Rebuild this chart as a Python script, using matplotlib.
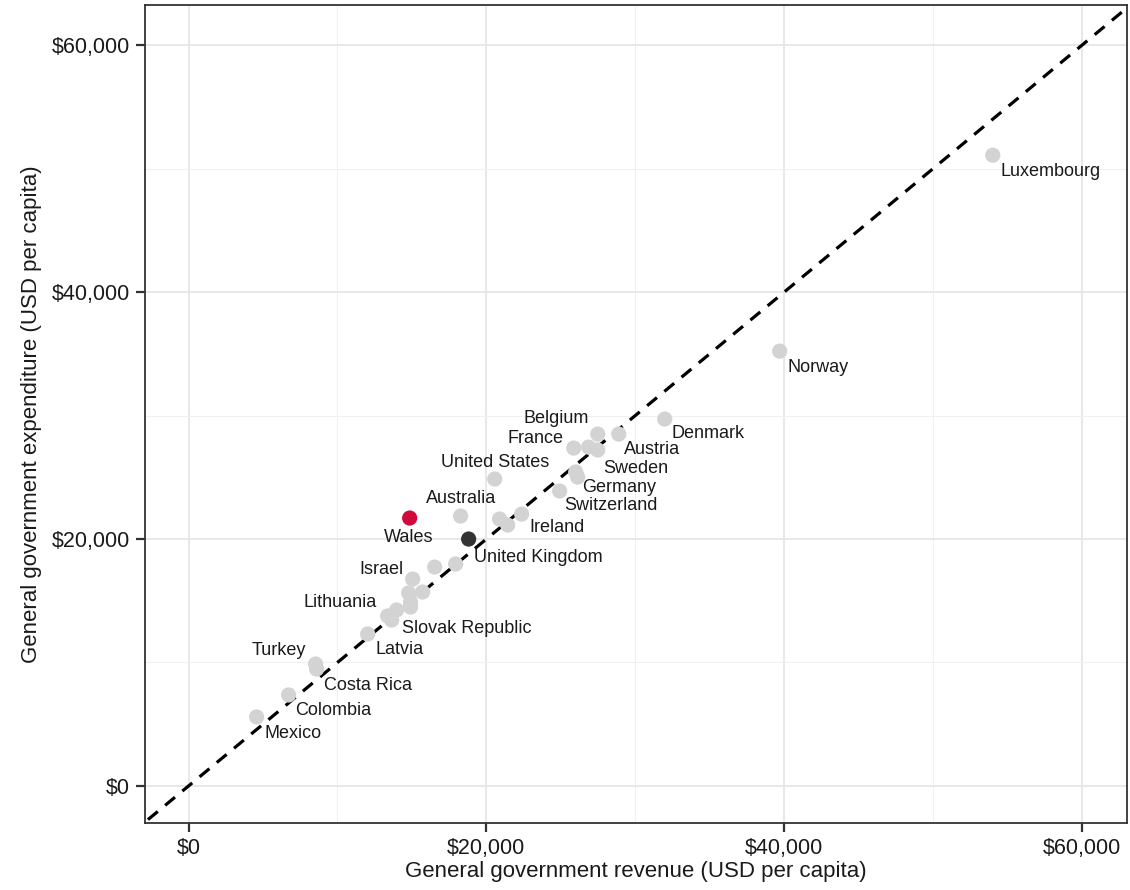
import matplotlib.pyplot as plt
from matplotlib.ticker import FuncFormatter, MultipleLocator

plt.rcParams['font.family'] = ['Liberation Sans', 'DejaVu Sans']

# revenue (x) and expenditure (y), USD per capita
countries = ['Luxembourg', 'Norway', 'Denmark', 'Belgium', 'Austria', 'France', '',
             'Sweden', '', 'Germany', 'Switzerland', 'United States', 'Australia',
             '', '', 'Ireland', '', '', 'Israel', '', '', '', '', '', 'Lithuania',
             'Slovak Republic', 'Latvia', 'Turkey', 'Costa Rica', 'Colombia', 'Mexico']
revenue = [54010, 39700, 31980, 27480, 28890, 25870, 26870,
           27480, 26000, 26130, 24920, 20560, 18270,
           20890, 21430, 22370, 16530, 17940, 15050, 14780, 15720, 14910, 14910, 13970, 13370,
           13640, 12030, 8530, 8600, 6720, 4570]
expenditure = [51090, 35220, 29720, 28500, 28500, 27370, 27450,
               27210, 25430, 25020, 23890, 24860, 21860,
               21620, 21130, 22020, 17730, 17980, 16760, 15630, 15710, 14900, 14490, 14250, 13770,
               13440, 12310, 9880, 9470, 7370, 5590]

wales = (14850, 21700)
uk = (18810, 20000)

# label offsets in pixels (dx, dy, ha)
label_pos = {
    'Luxembourg': (8, -16, 'left'), 'Norway': (8, -16, 'left'), 'Denmark': (7, -14, 'left'),
    'Belgium': (-9, 16, 'right'), 'Austria': (5, -15, 'left'), 'France': (-10, 10, 'right'),
    'Sweden': (5, -18, 'left'), 'Germany': (4, -10, 'left'), 'Switzerland': (5, -14, 'left'),
    'United States': (0, 17, 'center'), 'Australia': (0, 18, 'center'), 'Ireland': (8, -13, 'left'),
    'Israel': (-9, 10, 'right'), 'Lithuania': (-11, 13, 'right'), 'Slovak Republic': (10, -8, 'left'),
    'Latvia': (8, -16, 'left'), 'Turkey': (-10, 13, 'right'), 'Costa Rica': (7, -16, 'left'),
    'Colombia': (7, -16, 'left'), 'Mexico': (8, -17, 'left'),
}

fig = plt.figure(figsize=(11.3, 8.9), dpi=100)
ax = fig.add_axes([0.128, 0.0753, 0.869, 0.919])

ax.plot([-10000, 70000], [-10000, 70000], color='black', linestyle=(0, (4, 3)), linewidth=2.3, zorder=2)
ax.scatter(revenue, expenditure, s=120, color='#d3d3d3', edgecolors='none', zorder=3)
ax.scatter([wales[0]], [wales[1]], s=120, color='#d10a3c', edgecolors='none', zorder=4)
ax.scatter([uk[0]], [uk[1]], s=120, color='#333333', edgecolors='none', zorder=4)

for name, x, y in zip(countries, revenue, expenditure):
    if name in label_pos:
        dx, dy, ha = label_pos[name]
        ax.annotate(name, (x, y), xytext=(dx, dy), textcoords='offset pixels',
                    ha=ha, va='center', fontsize=13, color='#1a1a1a', zorder=5)
ax.annotate('Wales', wales, xytext=(-1, -19), textcoords='offset pixels',
            ha='center', va='center', fontsize=13, color='#1a1a1a', zorder=5)
ax.annotate('United Kingdom', uk, xytext=(5, -18), textcoords='offset pixels',
            ha='left', va='center', fontsize=13, color='#1a1a1a', zorder=5)

ax.set_xlim(-2950, 63000)
ax.set_ylim(-3000, 63250)
fmt = FuncFormatter(lambda v, p: '${:,.0f}'.format(v))
for axis in (ax.xaxis, ax.yaxis):
    axis.set_major_locator(MultipleLocator(20000))
    axis.set_minor_locator(MultipleLocator(10000))
    axis.set_major_formatter(fmt)
ax.grid(True, which='major', color='#e6e6e6', linewidth=1.3, zorder=0)
ax.grid(True, which='minor', color='#f0f0f0', linewidth=0.8, zorder=0)
ax.set_axisbelow(True)
ax.tick_params(which='major', length=6.5, width=1.6, pad=4, color='#333333',
               labelsize=15.5, labelcolor='#1a1a1a')
ax.tick_params(which='minor', length=0)
for s in ax.spines.values():
    s.set_color('#333333')
    s.set_linewidth(1.3)

ax.set_xlabel('General government revenue (USD per capita)', fontsize=16, color='#1a1a1a', labelpad=2)
ax.set_ylabel('General government expenditure (USD per capita)', fontsize=16, color='#1a1a1a', labelpad=7)

plt.savefig('out.png', dpi=100)
